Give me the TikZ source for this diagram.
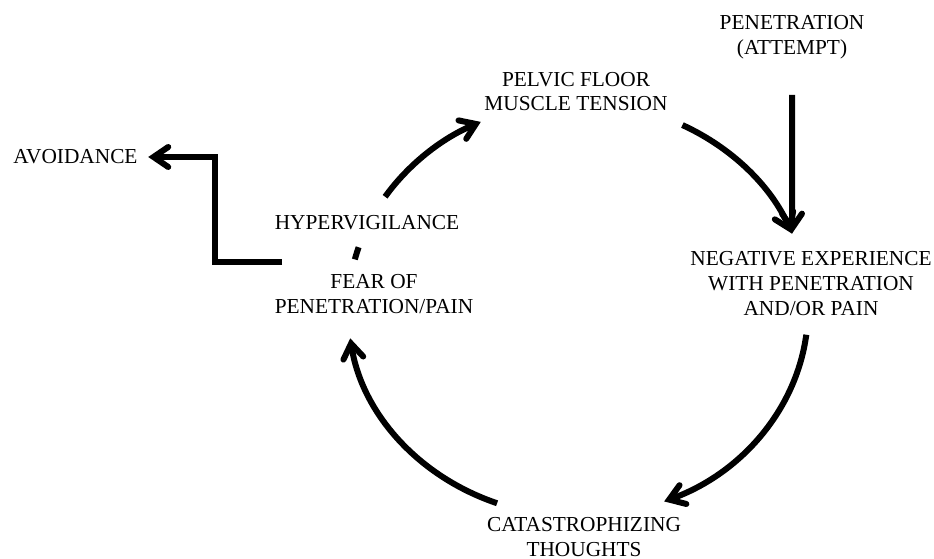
\documentclass[tikz,border=0pt]{standalone}
\usepackage{fontspec}
\setmainfont{Liberation Serif}
\usetikzlibrary{arrows.meta}

\begin{document}
\begin{tikzpicture}[x=0.75pt,y=0.75pt,
  lbl/.style={align=center,font=\fontsize{16}{18.5}\selectfont},
  thick line/.style={line width=4.5pt},
  arr/.style={thick line,-{Straight Barb[length=11pt,width=15pt,line cap=round]}}]
  \useasboundingbox (0,0) rectangle (934,559);

  \node[lbl] (pen) at (792,521.5) {PENETRATION\\(ATTEMPT)};
  \node[lbl] (pelvic) at (576,467.5) {PELVIC FLOOR\\MUSCLE TENSION};
  \node[lbl] (neg) at (811,275.5) {NEGATIVE EXPERIENCE\\WITH PENETRATION\\AND/OR PAIN};
  \node[lbl] (cat) at (584,22) {CATASTROPHIZING\\THOUGHTS};
  \node[lbl] (fear) at (374,265) {FEAR OF\\PENETRATION/PAIN};
  \node[lbl] (hyper) at (367,336) {HYPERVIGILANCE};
  \node[lbl] (avoid) at (75.5,402) {AVOIDANCE};

  % the cycle
  \coordinate (ctr) at (578,249.5);
  \draw[arr] (ctr) ++(147:230 and 207) arc[start angle=147,end angle=115,x radius=230,y radius=207];
  \draw[thick line] (ctr) ++(166:230 and 207) arc[start angle=166,end angle=162.5,x radius=230,y radius=207];
  \draw[arr] (ctr) ++(63:230 and 207) arc[start angle=63,end angle=21.5,x radius=230,y radius=207]
    coordinate (tip);
  \draw[arr] (ctr) ++(-7:230 and 207) arc[start angle=-7,end angle=-68,x radius=230,y radius=207];
  \draw[arr] (ctr) ++(249.4:230 and 207) arc[start angle=249.4,end angle=188,x radius=230,y radius=207];

  % side arrows
  \draw[arr] ([yshift=-43pt]pen.center) -- (tip);
  \coordinate (avstart) at (282,297);
  \draw[arr] (avstart) -- ++(-67,0) |- ([xshift=4.5pt]avoid.east);
\end{tikzpicture}
\end{document}
